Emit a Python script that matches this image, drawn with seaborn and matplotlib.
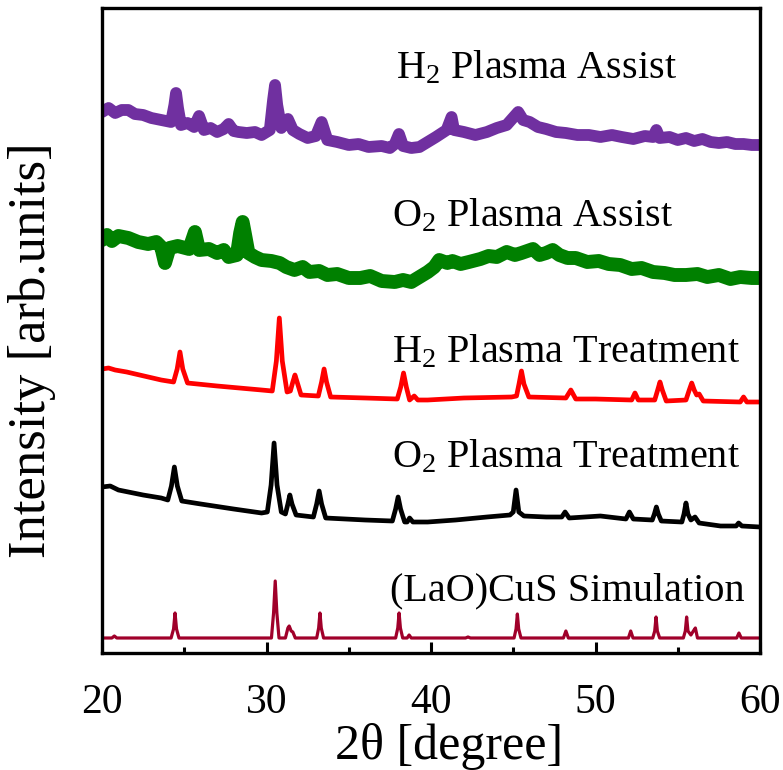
import matplotlib
matplotlib.use("Agg")
import matplotlib.pyplot as plt
from matplotlib.ticker import MultipleLocator
import seaborn as sns
import pandas as pd

# ---- XRD patterns (2theta in degrees, intensity in arbitrary offset units) ----
sim_x = [20.0, 20.6, 20.75, 20.9, 24.2, 24.35, 24.44, 24.53, 24.68,
         30.3, 30.43, 30.53, 30.63, 30.76, 31.15, 31.3, 31.38, 31.5, 31.6, 31.75,
         33.05, 33.17, 33.25, 33.33, 33.47, 37.85, 37.98, 38.06, 38.14, 38.28,
         38.55, 38.67, 38.8, 42.1, 42.25, 42.4, 45.05, 45.17, 45.25, 45.33, 45.47,
         48.05, 48.2, 48.35, 52.0, 52.14, 52.28, 53.48, 53.6, 53.68, 53.76, 53.9,
         55.34, 55.46, 55.54, 55.62, 55.8, 55.95, 56.07, 56.2, 58.58, 58.72, 58.86, 60.0]
sim_y = [15, 15, 17, 15, 15, 24, 40, 24, 15,
         15, 40, 72, 40, 15, 15, 25, 27, 22, 21, 15,
         15, 25, 40, 25, 15, 15, 25, 40, 25, 15,
         15, 18, 15, 15, 16, 15, 15, 24, 39, 24, 15,
         15, 22, 15, 15, 22, 15, 15, 22, 36, 22, 15,
         15, 22, 36, 22, 18, 22, 25, 15, 15, 20, 15, 15]

o2t_x = [20.0, 20.5, 21.0, 22.5, 23.6, 24.0, 24.22, 24.4, 24.58, 24.85, 26.0, 28.0, 29.7,
         30.05, 30.28, 30.46, 30.64, 30.9, 31.15, 31.3, 31.42, 31.55, 31.8,
         32.85, 33.05, 33.2, 33.35, 33.6, 36.0, 37.65, 37.85, 38.0, 38.15, 38.4,
         38.55, 38.7, 38.9, 39.8, 41.5, 43.4, 44.8, 45.0, 45.17, 45.34, 45.65,
         47.0, 47.95, 48.15, 48.4, 50.3, 51.85, 52.06, 52.3, 53.45, 53.58, 53.7,
         53.82, 54.0, 55.25, 55.38, 55.5, 55.62, 55.8, 56.05, 56.3, 57.6, 58.55,
         58.7, 58.9, 60.0]
o2t_y = [166, 167, 163, 158, 155, 153, 167, 186, 167, 152, 149, 144, 140,
         141, 168, 210, 168, 141, 139, 149, 158, 149, 138,
         136, 149, 162, 149, 135, 133, 132, 144, 156, 144, 131,
         131, 135, 131, 131, 133, 136, 138, 141, 163, 141, 137,
         136, 136, 141, 135, 137, 134, 141, 134, 133, 139, 146,
         139, 132, 131, 139, 150, 139, 133, 136, 130, 127, 127,
         130, 127, 126]

h2t_x = [20.0, 20.4, 20.8, 21.5, 23.6, 24.35, 24.57, 24.74, 24.91, 25.2, 27.0, 29.7,
         30.35, 30.6, 30.78, 30.96, 31.25, 31.45, 31.6, 31.73, 31.86, 32.1,
         33.15, 33.35, 33.5, 33.65, 33.9, 36.0, 37.95, 38.16, 38.33, 38.5, 38.7,
         38.98, 39.2, 39.8, 42.0, 44.9, 45.2, 45.35, 45.5, 45.65, 45.95,
         48.2, 48.5, 48.8, 50.0, 52.2, 52.4, 52.6, 53.6, 53.78, 53.92, 54.06, 54.3,
         55.5, 55.7, 55.85, 56.0, 56.15, 56.3, 56.55, 58.8, 59.0, 59.2, 60.0]
h2t_y = [284, 285, 283, 281, 273, 271, 284, 301, 284, 270, 267, 263,
         262, 292, 335, 292, 261, 262, 271, 278, 271, 258,
         257, 271, 284, 271, 256, 255, 254, 266, 280, 266, 253,
         257, 253, 253, 255, 256, 257, 269, 282, 269, 256,
         255, 263, 254, 254, 253, 260, 253, 253, 263, 271, 263, 252,
         253, 263, 270, 263, 258, 259, 252, 251, 256, 251, 251]

o2a_x = [20.0, 20.3, 20.6, 21.0, 21.6, 22.2, 22.8, 23.3, 23.6, 23.83, 24.1, 24.6,
         25.3, 25.65, 25.9, 26.5, 27.0, 27.4, 27.7, 28.2, 28.4, 28.55, 28.7, 28.9,
         29.3, 29.7, 30.3, 30.8, 31.2, 31.7, 32.2, 32.6, 33.2, 33.7, 34.3, 35.0,
         35.7, 36.3, 37.0, 37.8, 38.3, 38.8, 39.3, 39.8, 40.2, 40.5, 41.0, 41.3,
         41.8, 42.3, 43.0, 43.5, 44.0, 44.6, 45.1, 45.5, 46.2, 46.6, 47.0, 47.4,
         47.8, 48.3, 48.8, 49.5, 50.2, 50.8, 51.5, 52.2, 52.8, 53.5, 54.2, 54.8,
         55.5, 56.2, 56.8, 57.5, 58.2, 58.8, 59.5, 60.0]
o2a_y = [413, 418, 412, 417, 415, 411, 409, 411, 406, 390, 405, 407,
         404, 421, 403, 404, 400, 403, 396, 398, 420, 431, 418, 400,
         396, 393, 392, 390, 386, 383, 386, 381, 382, 378, 379, 375,
         375, 377, 372, 371, 373, 371, 376, 381, 386, 393, 390, 392,
         389, 391, 394, 397, 396, 401, 398, 400, 404, 398, 400, 403,
         398, 395, 395, 391, 392, 389, 388, 384, 385, 381, 380, 378,
         378, 379, 376, 378, 374, 376, 375, 375]

h2a_x = [20.0, 20.4, 20.8, 21.2, 21.6, 22.0, 22.5, 23.0, 23.6, 24.2, 24.4, 24.5,
         24.62, 24.8, 25.2, 25.6, 25.9, 26.2, 26.6, 27.0, 27.4, 27.7, 28.0, 28.3,
         28.8, 29.3, 29.7, 30.2, 30.4, 30.52, 30.65, 30.9, 31.3, 31.6, 32.0, 32.5,
         33.0, 33.35, 33.7, 34.3, 35.0, 35.6, 36.2, 37.0, 37.5, 37.8, 38.05, 38.3,
         38.8, 39.3, 39.8, 40.3, 40.95, 41.25, 41.4, 42.0, 42.7, 43.4, 44.0, 44.6,
         45.3, 45.6, 46.0, 46.5, 47.0, 47.6, 48.2, 48.9, 49.6, 50.3, 51.0, 51.6,
         52.3, 53.0, 53.5, 53.7, 53.9, 54.5, 55.0, 55.5, 56.0, 56.5, 57.0, 57.5,
         58.0, 58.5, 59.0, 59.5, 60.0]
h2a_y = [541, 545, 540, 543, 543, 539, 538, 535, 533, 531, 548, 560,
         545, 528, 530, 526, 537, 523, 525, 521, 524, 529, 522, 521,
         520, 521, 518, 523, 553, 568, 548, 525, 534, 523, 519, 515,
         517, 531, 513, 511, 508, 509, 506, 507, 505, 509, 519, 507,
         505, 506, 511, 516, 523, 536, 523, 521, 518, 521, 525, 528,
         541, 533, 531, 526, 524, 521, 520, 518, 518, 516, 518, 516,
         514, 517, 516, 523, 515, 516, 513, 515, 512, 514, 511, 510,
         511, 509, 509, 508, 508]

names = ["(LaO)CuS Simulation", "O$_2$ Plasma Treatment", "H$_2$ Plasma Treatment",
         "O$_2$ Plasma Assist", "H$_2$ Plasma Assist"]
colors = ["#A0002A", "#000000", "#FF0000", "#008000", "#7030A0"]
widths = [2.3, 3.4, 3.4, 10.0, 8.5]
label_x = [37.5, 37.63, 37.63, 37.63, 37.87]
label_y = [53, 186, 291, 427, 575]

series = [(sim_x, sim_y), (o2t_x, o2t_y), (h2t_x, h2t_y), (o2a_x, o2a_y), (h2a_x, h2a_y)]

sns.set_theme(style="white")
plt.rcParams["font.family"] = ["Liberation Serif", "DejaVu Serif"]
plt.rcParams["mathtext.fontset"] = "custom"
plt.rcParams["mathtext.rm"] = "Liberation Serif"
plt.rcParams["mathtext.it"] = "Liberation Serif:italic"
plt.rcParams["text.color"] = "black"
plt.rcParams["xtick.color"] = "black"
plt.rcParams["xtick.labelcolor"] = "black"
plt.rcParams["axes.labelcolor"] = "black"

fig = plt.figure(figsize=(7.83, 7.70), dpi=100)
ax = fig.add_axes([102 / 783, 1 - 653 / 770, 658 / 783, 645 / 770])

for (xs, ys), name, c, lw in zip(series, names, colors, widths):
    df = pd.DataFrame({"2theta": xs, "intensity": ys})
    sns.lineplot(data=df, x="2theta", y="intensity", ax=ax, color=c, linewidth=lw,
                 sort=False, estimator=None, solid_joinstyle="round",
                 solid_capstyle="round")

for name, lx, ly in zip(names, label_x, label_y):
    ax.text(lx, ly, name, fontsize=29, color="black", ha="left", va="baseline")

ax.set_xlim(20, 60)
ax.set_ylim(0, 645)
ax.set_xlabel("")
ax.set_ylabel("")
ax.set_yticks([])
ax.xaxis.set_major_locator(MultipleLocator(10))
ax.xaxis.set_minor_locator(MultipleLocator(5))
ax.tick_params(axis="x", which="major", direction="in", length=8, width=2.2,
               labelsize=30, pad=22, bottom=True, top=False, colors="black")
ax.tick_params(axis="x", which="minor", direction="in", length=4.5, width=2.2,
               bottom=True, top=False, colors="black")
for sp in ax.spines.values():
    sp.set_linewidth(2.4)
    sp.set_color("black")

fig.text(449 / 783, 1 - 747 / 770, "2\u03b8 [degree]", fontsize=36,
         ha="center", va="center")
fig.text(32 / 783, 1 - 350 / 770, "Intensity [arb.units]", fontsize=38,
         rotation=90, ha="center", va="center")

fig.savefig("out.png", dpi=100)
